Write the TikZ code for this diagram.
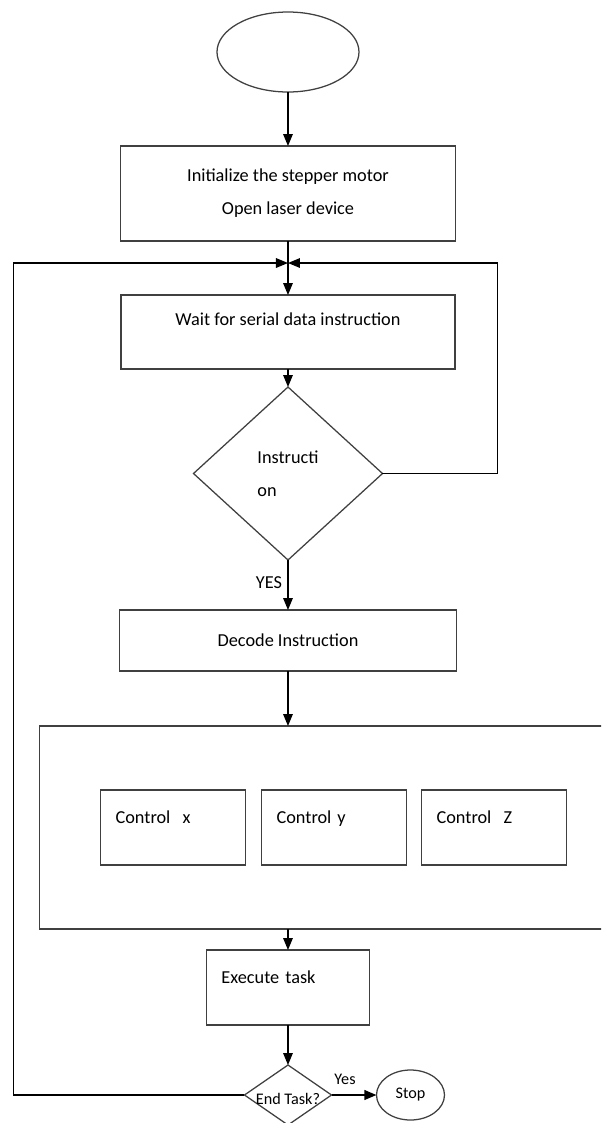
\documentclass[tikz,border=0pt]{standalone}
\usepackage{fontspec}
\setmainfont{Carlito}
\usetikzlibrary{positioning,shapes.geometric,arrows.meta}

\begin{document}
\begin{tikzpicture}[
        >={Triangle[length=3mm,width=2.4mm]},
        every node/.style={font=\fontsize{13}{23.5}\selectfont, outer sep=0pt},
        terminal/.style={draw=black!75, line width=0.9pt, ellipse},
        process/.style={draw=black!75, line width=0.9pt, align=center},
        ctrlbox/.style={draw=black!75, line width=0.9pt, minimum width=3.625cm, minimum height=1.875cm, text width=2.875cm, inner xsep=0.375cm, align=left, text height=0.3cm, text depth=0.48cm},
        decision/.style={draw=black!75, line width=0.9pt, diamond, inner sep=0pt},
        small/.style={font=\fontsize{11.5}{14}\selectfont, inner sep=0pt},
        flow/.style={->, line width=0.9pt}
    ]

    \clip (-7.2,1.3) rectangle (7.825,-26.775);

    % --- Start and set-up ---
    \node[terminal, minimum width=3.55cm, minimum height=2cm] (start) at (0,0) {};
    \node[process, below=1.35cm of start, minimum width=8.375cm, minimum height=2.375cm] (init) {Initialize the stepper motor\\Open laser device};
    \coordinate[below=0.55cm of init] (jn);

    % --- Instruction loop ---
    \node[process, below=1.35cm of init, minimum width=8.35cm, minimum height=1.85cm, text height=0.3cm, text depth=0.65cm] (wait) {Wait for serial data instruction};
    \node[decision, below=0.45cm of wait, minimum width=4.725cm, minimum height=4.325cm, align=left] (instr) {Instructi\\on};
    \node[process, below=1.25cm of instr, minimum width=8.425cm, minimum height=1.525cm] (decode) {Decode Instruction};

    % --- Axis control ---
    \node[process, below=1.375cm of decode, xshift=0.99cm, minimum width=14.4cm, minimum height=5.075cm] (bigbox) {};
    \node[ctrlbox, right=1.525cm of bigbox.west] (cx) {Control~~x};
    \node[ctrlbox, right=0.4cm of cx] (cy) {Control y};
    \node[ctrlbox, right=0.375cm of cy] (cz) {Control~~Z};
    \coordinate (bigbot) at (decode.south |- bigbox.south);

    % --- Execute and stop ---
    \node[ctrlbox, below=0.525cm of bigbot, minimum width=4.075cm, text width=3.325cm] (exec) {Execute task};
    \node[decision, below=1cm of exec, minimum width=2.175cm, minimum height=1.5cm, label={[small, yshift=-0.1cm]center:End Task?}] (endtask) {};
    \node[terminal, small, right=1.125cm of endtask, minimum width=1.7cm, minimum height=1.25cm] (stop) {Stop};

    % Labels
    \node[inner sep=0pt, below=0.425cm of instr.south, xshift=-0.475cm] (yes1) {YES};
    \node[small, above right=0.25cm and 0.075cm of endtask.east] (yes2) {Yes};

    % --- Connections ---
    \coordinate[right=5.2375cm of jn] (rtop);
    \coordinate[left=6.8625cm of jn] (ltop);
    \draw[flow] (start) -- (init);
    \draw[flow] (init) -- (wait);
    \draw[flow] (wait) -- (instr);
    \draw[flow] (instr) -- (decode);
    \draw[flow] (decode) -- (decode.south |- bigbox.north);
    \draw[flow] (bigbot) -- (exec);
    \draw[flow] (exec) -- (endtask);
    \draw[flow, line width=1.4pt] (endtask) -- (stop);
    \draw[flow] (instr.east) -| (rtop) -- (jn);
    \draw[flow] (endtask.west) -| (ltop) -- (jn);

\end{tikzpicture}
\end{document}
